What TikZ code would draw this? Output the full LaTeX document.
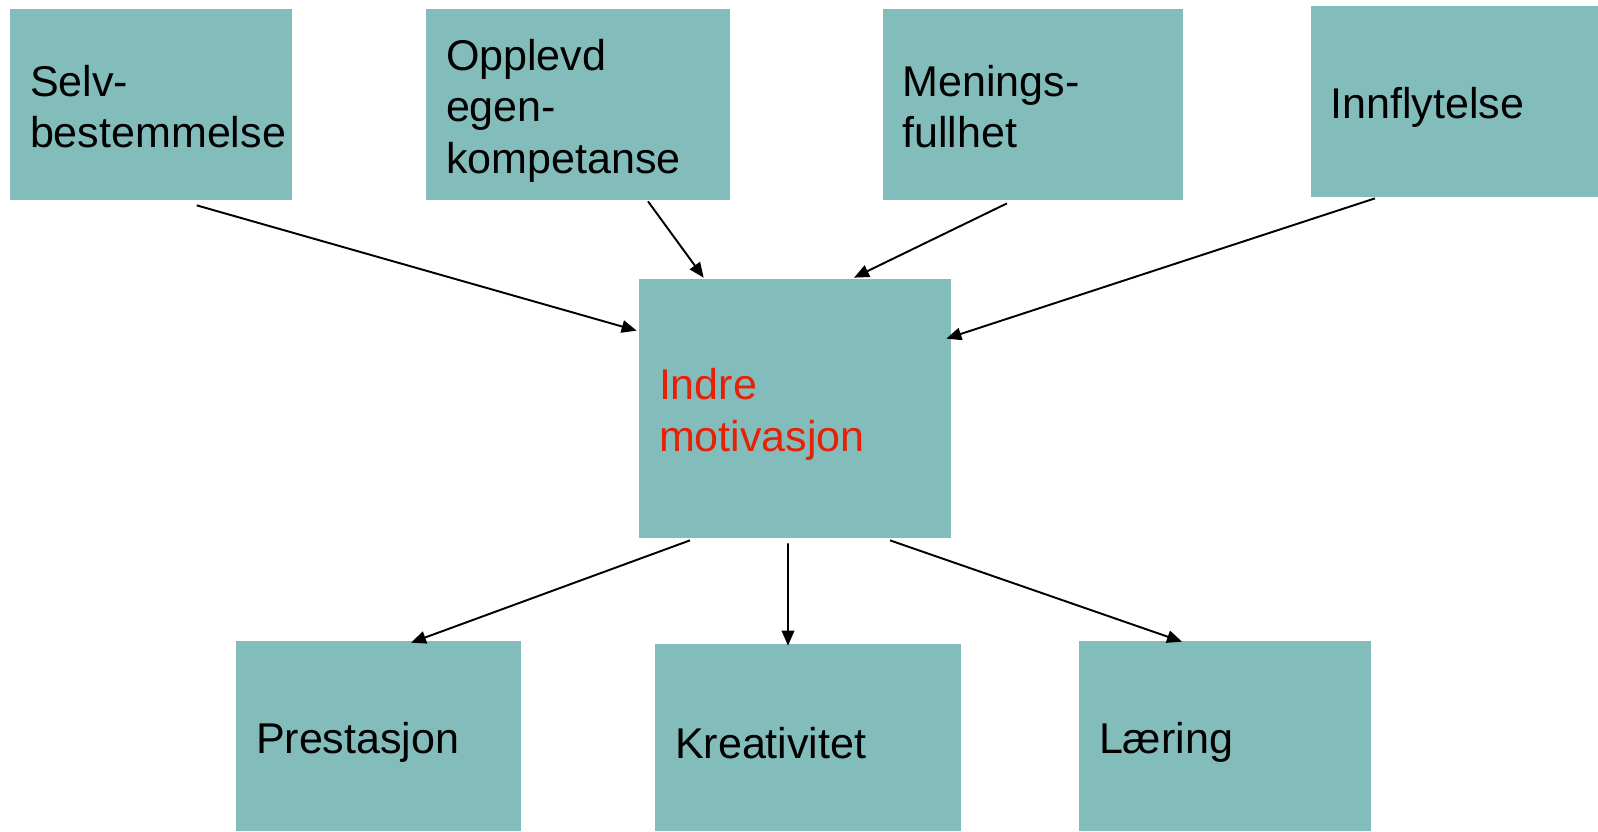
\documentclass[tikz,border=0pt]{standalone}
\usepackage{fontspec}
\setmainfont{Liberation Sans}
\usepackage{tikz}
\usetikzlibrary{arrows.meta,positioning}
\definecolor{BoxTeal}{HTML}{83BDBB}
\definecolor{MotRed}{HTML}{E52207}
\hyphenpenalty=10000
\exhyphenpenalty=10000

\begin{document}
\begin{tikzpicture}[
    boks/.style={
      fill=BoxTeal,
      inner xsep=0.4cm,
      inner ysep=0pt,
      align=left,
      font=\fontsize{24.5}{29.3}\selectfont,
      execute at begin node={\rule{0pt}{#1}}
    },
    boks/.default=0.86cm,
    pil/.style={
      -{Triangle[length=0.3cm,width=0.25cm]},
      line width=1.1pt
    }
  ]
  \useasboundingbox (0,0) rectangle (31.96,-16.62);

  % Antecedents
  \node[boks=0.7cm,text width=4.83cm,minimum height=3.82cm] (selv) at (3.015,-2.09)
    {Selv-\\bestemmelse};
  \node[boks,text width=5.28cm,minimum height=3.82cm] (opplevd) at (11.56,-2.09)
    {Opplevd\\egen-\\kompetanse};
  \node[boks=0.7cm,text width=5.21cm,minimum height=3.82cm] (menings) at (20.655,-2.09)
    {Menings-\\fullhet};
  \node[boks,text width=4.95cm,minimum height=3.82cm] (innfl)   at (29.085,-2.03)
    {Innflytelse};

  % Centre
  \node[boks,text width=5.44cm,minimum height=5.18cm,text=MotRed] (indre) at (15.9,-8.17)
    {Indre\\motivasjon};

  % Outcomes
  \node[boks,text width=4.90cm,minimum height=3.80cm] (prest)   at (7.57,-14.72)
    {Prestasjon};
  \node[boks,text width=5.32cm,minimum height=3.74cm] (kreat)   at (16.16,-14.75)
    {Kreativitet};
  \node[boks,text width=5.04cm,minimum height=3.80cm] (laering) at (24.5,-14.72)
    {Læring};

  % Arrows in
  \draw[pil] ([xshift=0.92cm,yshift=-0.1cm]selv.south)
    -- ([xshift=-0.04cm,yshift=-1.04cm]indre.north west);
  \draw[pil] ([xshift=1.4cm,yshift=-0.02cm]opplevd.south)
    -- ([xshift=1.3cm,yshift=0.02cm]indre.north west);
  \draw[pil] ([xshift=-0.515cm,yshift=-0.06cm]menings.south)
    -- ([xshift=1.18cm,yshift=0.02cm]indre.north);
  \draw[pil] ([xshift=-1.585cm,yshift=-0.02cm]innfl.south)
    -- ([xshift=-0.1cm,yshift=-1.2cm]indre.north east);

  % Arrows out
  \draw[pil] ([xshift=-2.1cm,yshift=-0.04cm]indre.south)
    -- ([xshift=0.65cm,yshift=-0.04cm]prest.north);
  \draw[pil] ([xshift=-0.14cm,yshift=-0.1cm]indre.south)
    -- ([xshift=-0.4cm,yshift=-0.04cm]kreat.north);
  \draw[pil] ([xshift=1.9cm,yshift=-0.04cm]indre.south)
    -- ([xshift=-0.86cm,yshift=-0.02cm]laering.north);

\end{tikzpicture}
\end{document}
